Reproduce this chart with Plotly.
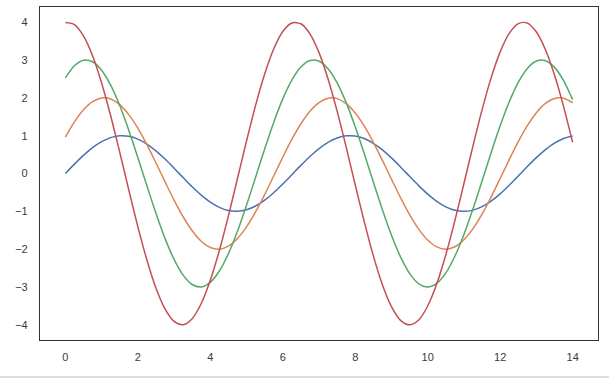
import plotly.graph_objects as go

x_values = [0.0, 0.25, 0.5, 0.75, 1.0, 1.25, 1.5, 1.75, 2.0, 2.25, 2.5, 2.75, 3.0, 3.25,
            3.5, 3.75, 4.0, 4.25, 4.5, 4.75, 5.0, 5.25, 5.5, 5.75, 6.0, 6.25, 6.5, 6.75,
            7.0, 7.25, 7.5, 7.75, 8.0, 8.25, 8.5, 8.75, 9.0, 9.25, 9.5, 9.75, 10.0, 10.25,
            10.5, 10.75, 11.0, 11.25, 11.5, 11.75, 12.0, 12.25, 12.5, 12.75, 13.0, 13.25,
            13.5, 13.75, 14.0]

blue_values = [0.0, 0.247, 0.479, 0.682, 0.841, 0.949, 0.997, 0.984, 0.909, 0.778,
               0.598, 0.382, 0.141, -0.108, -0.351, -0.572, -0.757, -0.895, -0.978, -0.999,
               -0.959, -0.859, -0.706, -0.508, -0.279, -0.033, 0.215, 0.450, 0.657, 0.823,
               0.938, 0.995, 0.989, 0.923, 0.799, 0.625, 0.412, 0.174, -0.075, -0.320,
               -0.544, -0.735, -0.880, -0.970, -1.000, -0.968, -0.876, -0.729, -0.537, -0.311,
               -0.066, 0.183, 0.420, 0.632, 0.804, 0.926, 0.991]

orange_values = [0.959, 1.363, 1.683, 1.898, 1.995, 1.968, 1.819, 1.556, 1.197, 0.763,
                 0.282, -0.216, -0.702, -1.143, -1.514, -1.790, -1.955, -1.999, -1.918, -1.718,
                 -1.411, -1.017, -0.559, -0.066, 0.430, 0.900, 1.314, 1.646, 1.876, 1.989,
                 1.979, 1.845, 1.597, 1.250, 0.824, 0.348, -0.150, -0.639, -1.088, -1.469,
                 -1.759, -1.940, -2.000, -1.936, -1.751, -1.458, -1.073, -0.622, -0.133, 0.365,
                 0.840, 1.263, 1.608, 1.852, 1.981, 1.987, 1.870]

green_values = [2.525, 2.847, 2.993, 2.952, 2.728, 2.334, 1.796, 1.145, 0.423, -0.325,
                -1.052, -1.715, -2.270, -2.685, -2.933, -2.998, -2.877, -2.577, -2.117, -1.525,
                -0.838, -0.100, 0.645, 1.350, 1.971, 2.469, 2.814, 2.984, 2.968, 2.768,
                2.396, 1.874, 1.236, 0.522, -0.225, -0.959, -1.632, -2.204, -2.639, -2.910,
                -3.000, -2.904, -2.627, -2.186, -1.610, -0.933, -0.199, 0.548, 1.261, 1.895,
                2.411, 2.778, 2.972, 2.981, 2.805, 2.454, 1.951]

red_values = [3.990, 3.936, 3.637, 3.112, 2.394, 1.527, 0.564, -0.433, -1.403, -2.286,
              -3.027, -3.580, -3.910, -3.997, -3.836, -3.436, -2.822, -2.033, -1.118, -0.133,
              0.860, 1.800, 2.628, 3.292, 3.752, 3.978, 3.958, 3.690, 3.194, 2.499,
              1.648, 0.696, -0.300, -1.278, -2.176, -2.939, -3.519, -3.880, -4.000, -3.872,
              -3.502, -2.915, -2.146, -1.244, -0.265, 0.730, 1.681, 2.527, 3.215, 3.704,
              3.962, 3.974, 3.740, 3.272, 2.601, 1.768, 0.826]

x_ticks = [0, 2, 4, 6, 8, 10, 12, 14]
y_ticks = [-4, -3, -2, -1, 0, 1, 2, 3, 4]

series = [
    ("blue", blue_values, "#4c72b0"),
    ("orange", orange_values, "#dd8452"),
    ("green", green_values, "#55a868"),
    ("red", red_values, "#c44e52"),
]

fig = go.Figure()
for name, vals, color in series:
    fig.add_trace(go.Scatter(x=x_values, y=vals, mode="lines", name=name,
                             line=dict(color=color, width=1.5, shape="spline", smoothing=0.8)))

fig.update_layout(
    width=609, height=378,
    margin=dict(l=40, r=11, t=7, b=38),
    paper_bgcolor="white", plot_bgcolor="white",
    showlegend=False,
    font=dict(family="Liberation Sans, Arial, sans-serif", size=11, color="#3a3a3a"),
)
fig.update_xaxes(range=[-0.7, 14.7], tickvals=x_ticks, showgrid=False, zeroline=False,
                 showline=True, linecolor="#333333", linewidth=1.25, mirror=True,
                 ticks="", ticklabelstandoff=7)
fig.update_yaxes(range=[-4.4, 4.4], tickvals=y_ticks, showgrid=False, zeroline=False,
                 showline=True, linecolor="#333333", linewidth=1.25, mirror=True,
                 ticks="", ticklabelstandoff=9)
fig.add_shape(type="line", xref="paper", yref="paper",
              x0=-40 / 558, x1=569 / 558, y0=-37 / 333, y1=-37 / 333,
              line=dict(color="#bbbbbb", width=1))

fig.write_html("out.html")
